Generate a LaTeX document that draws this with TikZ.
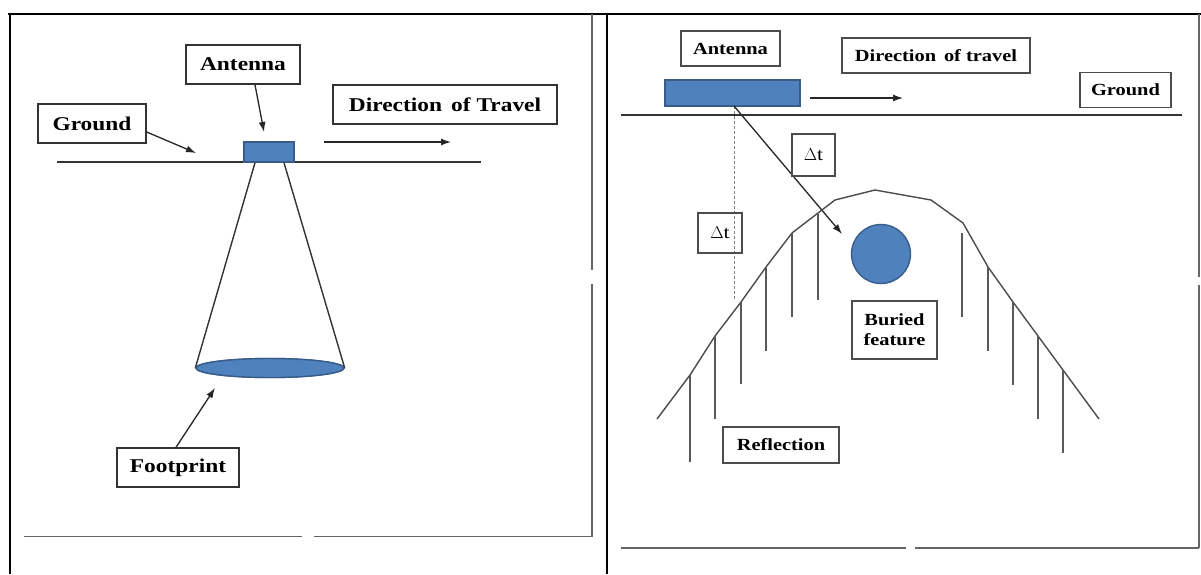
\documentclass[tikz,border=0pt]{standalone}
\usepackage{fontspec}
\newfontfamily\lab[FakeStretch=1.2]{Liberation Serif}
\usetikzlibrary{arrows.meta,shapes.geometric}
\definecolor{antblue}{HTML}{4F81BD}
\definecolor{antedge}{HTML}{385D8A}
\begin{document}
\begin{tikzpicture}[x=1pt,y=-1pt,
  frame/.style={line width=2pt,black},
  inner/.style={line width=1.5pt,black!60},
  gline/.style={line width=1.4pt,black!80},
  lboxL/.style={draw=black!80,line width=1.4pt,inner sep=0pt,text=black,
     font=\lab\bfseries\fontsize{19.5}{21}\selectfont},
  lboxR/.style={draw=black!70,line width=1.4pt,inner sep=0pt,text=black,
     font=\lab\bfseries\fontsize{17}{19}\selectfont,align=center},
  dtbox/.style={draw=black!70,line width=1.4pt,inner sep=0pt,text=black,
     font=\lab\fontsize{18}{20}\selectfont},
  antrect/.style={draw=antedge,fill=antblue,line width=1.4pt,inner sep=0pt},
  arr/.style={line width=1.3pt,black!85,-{Latex[length=10pt,width=7pt]}},
  tick/.style={line width=1.4pt,black!65},
  hyp/.style={line width=1.4pt,black!70}]
\useasboundingbox (0,0) rectangle (1201,574);
\fill[white] (0,0) rectangle (1201,574);

% outer frame
\draw[frame] (8,14) -- (1201,14);
\draw[frame] (9.5,14) -- (9.5,574);
\draw[frame] (607,14) -- (607,574);
% inner panel frames
\draw[inner] (592,14) -- (592,270) (592,284) -- (592,536.5);
\draw[inner] (24,536.5) -- (302,536.5) (314,536.5) -- (592,536.5);
\draw[inner] (1199,14) -- (1199,277) (1199,285) -- (1199,548);
\draw[inner] (621,548) -- (906,548) (915,548) -- (1199,548);

% ---------------- left panel ----------------
\coordinate (gL1) at (57,162);
\coordinate (gL2) at (481,162);
\draw[gline] (gL1) -- (gL2);
\node[antrect,minimum width=50pt,minimum height=20pt] (antL) at (269,152) {};
\node[antrect,ellipse,minimum width=148pt,minimum height=19pt] (fp) at (270,368) {};
\draw[gline] ([xshift=-14pt]antL.south) -- (fp.west);
\draw[gline] ([xshift=15pt]antL.south) -- (fp.east);
\node[antrect,ellipse,minimum width=148pt,minimum height=19pt] at (270,368) {};

\node[lboxL,minimum width=114pt,minimum height=39pt] (antLlab) at (243,64.5) {Antenna};
\coordinate (antLtip) at (264,132);
\draw[arr] ([xshift=12pt]antLlab.south) -- (antLtip);

\node[lboxL,minimum width=108pt,minimum height=39pt] (gLlab) at (92,123.5) {Ground};
\coordinate (gLtip) at (196,153);
\draw[arr] ([yshift=-8.5pt]gLlab.east) -- (gLtip);

\node[lboxL,minimum width=224pt,minimum height=39pt] (dirL) at (445,104.5) {Direction\, of Travel};
\coordinate (dL1) at (324,142);
\coordinate (dL2) at (451,142);
\draw[arr] (dL1) -- (dL2);

\node[lboxL,minimum width=122pt,minimum height=39pt] (fpl) at (178,467.5) {Footprint};
\coordinate (fptip) at (215,388);
\draw[arr] ([xshift=-2pt]fpl.north) -- (fptip);

% ---------------- right panel ----------------
\coordinate (gR1) at (621,115);
\coordinate (gR2) at (1182,115);
\draw[gline] (gR1) -- (gR2);
\node[antrect,minimum width=135pt,minimum height=26pt] (antR) at (732.5,93) {};
\coordinate (dR1) at (810,98);
\coordinate (dR2) at (903,98);
\draw[arr] (dR1) -- (dR2);

\node[lboxR,minimum width=99pt,minimum height=35pt] (antRlab) at (730.5,48.5) {Antenna};
\node[lboxR,minimum width=188pt,minimum height=35pt] (dirR) at (936,55.5) {Direction\, of travel};
\node[lboxR,minimum width=91pt,minimum height=35pt] (gRlab) at (1125.5,90) {Ground};

\coordinate (src) at (734,106);
\coordinate (dashend) at (734,300);
\draw[line width=0.9pt,black!50,densely dashed] (src) -- (dashend);
\coordinate (diagtip) at (842,234);
\draw[arr] (src) -- (diagtip);

\node[dtbox,minimum width=43pt,minimum height=42pt] (dt1) at (813.5,155) {$\Delta$t};
\node[dtbox,minimum width=44pt,minimum height=40pt] (dt2) at (720,233) {$\Delta$t};

% hyperbola
\draw[hyp] (657,419) -- (690,375) -- (715,336) -- (741,302) -- (766,267) -- (792,233)
  -- (818,213) -- (835,200) -- (875,190) -- (931,200) -- (963,223) -- (988,267)
  -- (1013,302) -- (1038,336) -- (1063,370) -- (1099,419);
% reflection ticks
\foreach \x/\a/\b in {690/375/462, 715/336/419, 741/302/384, 766/267/351, 792/233/317,
   818/214/300, 962/233/317, 988/267/351, 1013/302/385, 1038/336/419, 1063/370/453}
  \draw[tick] (\x,\a) -- (\x,\b);

\node[antrect,circle,minimum size=59pt] (feat) at (881,254) {};
\node[lboxR,minimum width=85pt,minimum height=58pt,font=\lab\bfseries\fontsize{17}{20}\selectfont] (buried) at (894.5,330) {Buried\\feature};
\node[lboxR,minimum width=116pt,minimum height=36pt] (refl) at (781,445) {Reflection};
\end{tikzpicture}
\end{document}
